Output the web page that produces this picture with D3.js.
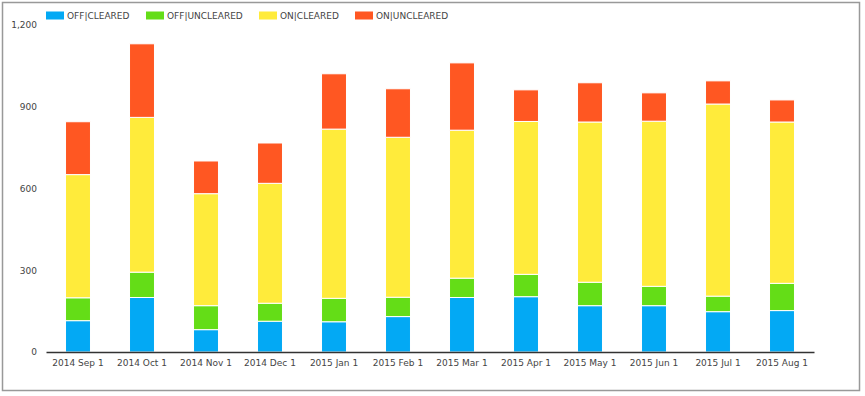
<!DOCTYPE html>
<html>
<head>
<meta charset="utf-8">
<script src="https://cdn.jsdelivr.net/npm/d3@7"></script>
<style>
  body { margin: 0; background: #fff; }
  svg { display: block; font-family: "DejaVu Sans", Verdana, sans-serif; }
</style>
</head>
<body>
<svg id="chart"></svg>
<script>
const months = ['2014 Sep 1', '2014 Oct 1', '2014 Nov 1', '2014 Dec 1', '2015 Jan 1', '2015 Feb 1',
  '2015 Mar 1', '2015 Apr 1', '2015 May 1', '2015 Jun 1', '2015 Jul 1', '2015 Aug 1'];
const seriesNames = ['OFF|CLEARED', 'OFF|UNCLEARED', 'ON|CLEARED', 'ON|UNCLEARED'];
const offCleared   = [115, 200,  82, 113, 111, 130, 200, 203, 170, 170, 148, 152];
const offUncleared = [ 84,  93,  88,  66,  86,  71,  71,  82,  86,  71,  57, 100];
const onCleared    = [452, 568, 411, 440, 621, 587, 543, 561, 588, 606, 705, 592];
const onUncleared  = [194, 270, 120, 148, 203, 178, 247, 116, 144, 104,  85,  81];
const yTicks = [0, 300, 600, 900, 1200];
const colors = ['#03a9f4', '#64dd17', '#ffeb3b', '#ff5722'];

const width = 865, height = 396;
const margin = { top: 25, right: 51, bottom: 44, left: 46 };

const svg = d3.select('#chart').attr('width', width).attr('height', height);

// outer frame
svg.append('rect')
  .attr('x', 2.5).attr('y', 2.5)
  .attr('width', 857).attr('height', 388)
  .attr('fill', 'none').attr('stroke', '#999').attr('stroke-width', 1.5);

const rows = months.map((m, i) => ({
  month: m,
  [seriesNames[0]]: offCleared[i],
  [seriesNames[1]]: offUncleared[i],
  [seriesNames[2]]: onCleared[i],
  [seriesNames[3]]: onUncleared[i],
}));
const stacked = d3.stack().keys(seriesNames)(rows);

const x = d3.scaleBand()
  .domain(months)
  .range([margin.left, width - margin.right])
  .paddingInner(0.61)
  .paddingOuter(0.305);
const y = d3.scaleLinear()
  .domain([0, 1200])
  .range([height - margin.bottom, margin.top]);

stacked.forEach((layer, k) => {
  svg.append('g')
    .selectAll('rect')
    .data(layer)
    .join('rect')
    .attr('x', d => x(d.data.month))
    .attr('width', x.bandwidth())
    .attr('y', d => y(d[1]))
    .attr('height', d => y(d[0]) - y(d[1]))
    .attr('fill', colors[k])
    .attr('stroke', '#fff')
    .attr('stroke-width', 1);
});

// x axis
const xAxis = svg.append('g')
  .attr('transform', `translate(0,${y(0)})`)
  .call(d3.axisBottom(x).tickSize(0).tickPadding(8));
xAxis.select('.domain').attr('stroke', '#333').attr('stroke-width', 1.5);
xAxis.selectAll('text').attr('font-size', 9).attr('fill', '#444')
  .attr('font-family', '"DejaVu Sans", Verdana, sans-serif');

// y axis (labels only)
const yAxis = svg.append('g')
  .attr('transform', `translate(${margin.left},0)`)
  .call(d3.axisLeft(y).tickValues(yTicks).tickSize(0).tickPadding(9).tickFormat(d3.format(',')));
yAxis.select('.domain').remove();
yAxis.selectAll('text').attr('font-size', 9).attr('fill', '#444')
  .attr('font-family', '"DejaVu Sans", Verdana, sans-serif');

// legend
const legendX = [46, 146, 259, 355];
const legend = svg.append('g');
seriesNames.forEach((name, i) => {
  legend.append('rect')
    .attr('x', legendX[i]).attr('y', 11.5)
    .attr('width', 18).attr('height', 8)
    .attr('fill', colors[i]);
  legend.append('text')
    .attr('x', legendX[i] + 21).attr('y', 15.5)
    .attr('dy', '0.35em')
    .attr('font-size', 9).attr('fill', '#444')
    .text(name);
});
</script>
</body>
</html>
